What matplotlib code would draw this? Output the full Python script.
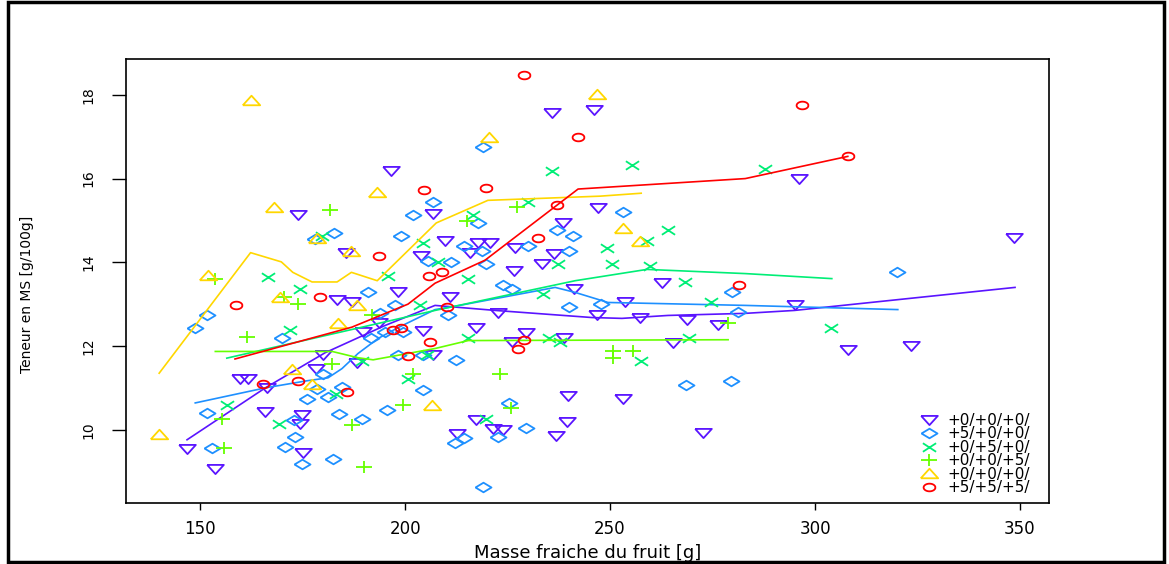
import matplotlib
matplotlib.use("Agg")
import matplotlib.pyplot as plt
from matplotlib.path import Path
from matplotlib.patches import Rectangle
import numpy as np

# group labels (legend order)
labels = ["+0/+0/+0/", "+5/+0/+0/", "+0/+5/+0/", "+0/+0/+5/", "+0/+0/+0/", "+5/+5/+5/"]
colors = ["#5a14ff", "#1e90ff", "#00ee76", "#66ff00", "#ffd700", "#ff0000"]

# fruit fresh mass [g] / dry matter [g/100g], one pair of lists per group
x_g1 = [146.8, 153.7, 159.8, 161.7, 165.9, 166.3, 173.9, 174.9, 174.4, 175.1, 178.3, 180.0, 183.4, 185.6,
        187.1, 188.3, 189.8, 193.7, 196.6, 198.3, 203.9, 204.4, 206.8, 206.8, 209.8, 211.0, 212.7, 215.9,
        217.3, 217.3, 217.8, 220.7, 221.5, 222.7, 223.9, 226.1, 226.6, 226.8, 229.5, 233.4, 235.9, 236.3,
        236.8, 238.5, 238.8, 239.5, 239.8, 241.2, 246.1, 246.8, 247.1, 253.2, 253.7, 257.3, 262.7, 265.4,
        268.8, 272.7, 276.3, 295.1, 296.1, 308.0, 323.4, 348.5]
y_g1 = [9.55, 9.05, 11.2, 11.22, 10.43, 11.0, 15.14, 10.36, 10.14, 9.45, 11.46, 11.79, 13.11, 14.21,
        13.06, 11.6, 12.34, 12.54, 16.17, 13.28, 14.16, 12.37, 15.16, 11.79, 14.5, 13.16, 9.9, 14.23,
        12.44, 10.24, 14.45, 14.45, 10.02, 12.78, 10.0, 12.1, 13.78, 14.35, 12.3, 13.95, 17.56, 14.19,
        9.86, 14.93, 12.2, 10.19, 10.81, 13.37, 17.63, 12.73, 15.29, 10.74, 13.04, 12.68, 13.5, 12.08,
        12.61, 9.93, 12.49, 12.99, 16.0, 11.91, 12.0, 14.57]

x_g2 = [148.8, 151.7, 151.7, 152.9, 170.0, 170.7, 172.9, 173.2, 174.9, 176.1, 178.0, 178.5, 180.0, 181.2,
        182.4, 182.7, 183.9, 184.6, 189.5, 191.0, 191.7, 193.9, 195.1, 195.6, 197.6, 198.3, 199.0, 199.5,
        202.0, 204.4, 204.4, 205.6, 206.8, 210.5, 211.2, 212.2, 212.4, 214.4, 214.4, 217.8, 218.8, 219.0,
        219.0, 219.8, 222.7, 223.9, 225.4, 226.1, 229.5, 230.0, 237.1, 240.0, 240.0, 241.0, 247.8, 253.2,
        268.5, 279.5, 279.8, 281.2, 320.0]
y_g2 = [12.44, 12.73, 10.41, 9.57, 12.18, 9.59, 10.24, 9.83, 9.19, 10.74, 14.55, 10.98, 11.34, 10.77,
        9.31, 14.71, 10.38, 11.03, 10.26, 13.28, 12.18, 12.78, 12.34, 10.48, 12.97, 11.79, 14.64, 12.34,
        15.14, 11.79, 10.96, 14.04, 15.45, 12.75, 14.0, 9.69, 11.67, 14.4, 9.81, 14.93, 14.26, 16.75,
        8.64, 13.97, 9.83, 13.45, 10.65, 13.35, 10.05, 14.4, 14.76, 14.28, 12.92, 14.64, 13.01, 15.19,
        11.08, 11.17, 13.28, 12.82, 13.76]

x_g3 = [156.6, 166.6, 169.3, 172.0, 174.4, 179.8, 183.2, 189.5, 195.9, 200.7, 203.7, 204.4, 205.4, 208.0,
        215.4, 215.4, 216.6, 219.8, 230.0, 233.7, 235.1, 235.9, 237.3, 237.8, 249.3, 250.5, 255.4, 257.6,
        259.0, 259.8, 264.1, 268.3, 269.3, 274.6, 287.8, 303.9]
y_g3 = [10.6, 13.64, 10.14, 12.39, 13.37, 14.62, 10.86, 11.65, 13.68, 11.22, 12.99, 14.45, 11.79, 14.0,
        13.61, 12.18, 15.12, 10.26, 15.43, 13.25, 12.18, 16.17, 13.95, 12.1, 14.35, 13.95, 16.32, 11.63,
        14.52, 13.9, 14.76, 13.52, 12.2, 13.04, 16.24, 12.42]

x_g4 = [153.7, 155.4, 155.9, 161.5, 170.5, 173.9, 181.7, 182.2, 187.1, 190.0, 192.0, 199.5, 202.0, 215.1,
        223.2, 225.9, 227.3, 250.7, 250.7, 255.6, 278.8]
y_g4 = [13.59, 10.26, 9.57, 12.22, 13.16, 13.01, 15.26, 11.56, 10.12, 9.11, 12.73, 10.6, 11.32, 14.98,
        11.32, 10.53, 15.33, 11.89, 11.72, 11.87, 12.56]

x_g5 = [140.0, 152.0, 162.4, 168.0, 169.5, 172.4, 177.3, 178.5, 183.7, 186.8, 188.3, 193.2, 206.6, 220.5,
        246.8, 253.2, 257.3]
y_g5 = [9.9, 13.7, 17.87, 15.31, 13.16, 11.46, 11.1, 14.59, 12.56, 14.28, 12.97, 15.69, 10.6, 16.99,
        18.01, 14.81, 14.5]

x_g6 = [158.8, 165.4, 173.9, 179.3, 185.9, 193.7, 197.1, 199.0, 200.7, 204.6, 205.9, 206.1, 209.0, 210.2,
        219.8, 227.6, 229.0, 229.0, 232.4, 237.1, 242.2, 281.5, 296.8, 308.0]
y_g6 = [12.99, 11.1, 11.17, 13.16, 10.91, 14.14, 12.39, 12.42, 11.77, 15.72, 13.68, 12.1, 13.76, 12.94,
        15.77, 11.94, 12.15, 18.47, 14.59, 15.38, 16.99, 13.45, 17.75, 16.53]

# smoothed trend of each group
lx_g1 = [146.8, 165.9, 180.5, 195.1, 207.3, 222.0, 245.6, 252.9, 264.1, 283.0, 295.0, 348.8]
ly_g1 = [9.76, 11.0, 11.84, 12.49, 12.97, 12.85, 12.68, 12.66, 12.73, 12.78, 12.85, 13.4]
lx_g2 = [148.8, 165.9, 176.1, 181.2, 184.6, 188.5, 193.4, 198.3, 207.3, 212.2, 236.6, 241.5, 249.5, 283.0, 320.2]
ly_g2 = [10.64, 11.0, 11.17, 11.24, 11.46, 11.82, 12.18, 12.44, 12.87, 12.95, 13.4, 13.28, 13.04, 12.97, 12.87]
lx_g3 = [156.5, 207.3, 241.5, 259.0, 283.0, 304.1]
ly_g3 = [11.71, 12.85, 13.56, 13.83, 13.73, 13.61]
lx_g4 = [153.7, 182.2, 188.5, 192.2, 207.3, 215.4, 278.8]
ly_g4 = [11.87, 11.87, 11.72, 11.67, 11.94, 12.13, 12.15]
lx_g5 = [140.0, 162.3, 169.8, 172.6, 177.3, 183.4, 186.9, 193.2, 207.6, 220.2, 247.6, 257.6]
ly_g5 = [11.35, 14.23, 14.01, 13.76, 13.53, 13.53, 13.76, 13.56, 14.94, 15.48, 15.58, 15.65]
lx_g6 = [158.5, 187.0, 200.7, 207.3, 219.5, 242.2, 283.0, 308.0]
ly_g6 = [11.69, 12.45, 13.0, 13.5, 14.05, 15.75, 16.0, 16.53]

# flattened symbols, like the original R plot
t = np.linspace(0, 2 * np.pi, 40)
m_tri_down = Path([(-1, 0.55), (1, 0.55), (0, -0.55), (-1, 0.55)])
m_diamond = Path([(-1, 0), (0, 0.6), (1, 0), (0, -0.6), (-1, 0)])
m_cross = Path([(-1, -0.65), (1, 0.65), (-1, 0.65), (1, -0.65)],
               [Path.MOVETO, Path.LINETO, Path.MOVETO, Path.LINETO])
m_plus = Path([(-1, 0), (1, 0), (0, -0.8), (0, 0.8)],
              [Path.MOVETO, Path.LINETO, Path.MOVETO, Path.LINETO])
m_tri_up = Path([(-1, -0.55), (1, -0.55), (0, 0.55), (-1, -0.55)])
m_circle = Path(np.column_stack([np.cos(t), 0.65 * np.sin(t)]))

markers = [m_tri_down, m_diamond, m_cross, m_plus, m_tri_up, m_circle]
msizes = [12, 11.5, 9.5, 11, 12.5, 8.5]

xs = [x_g1, x_g2, x_g3, x_g4, x_g5, x_g6]
ys = [y_g1, y_g2, y_g3, y_g4, y_g5, y_g6]
lxs = [lx_g1, lx_g2, lx_g3, lx_g4, lx_g5, lx_g6]
lys = [ly_g1, ly_g2, ly_g3, ly_g4, ly_g5, ly_g6]

fig = plt.figure(figsize=(11.69, 5.64), dpi=100)
ax = fig.add_axes([0.1074, 0.1082, 0.79, 0.7867])

handles = []
for i in range(6):
    h, = ax.plot(xs[i], ys[i], linestyle='', marker=markers[i], markersize=msizes[i],
                 markerfacecolor='none', markeredgecolor=colors[i], markeredgewidth=1.3,
                 label=labels[i])
    handles.append(h)
    ax.plot(lxs[i], lys[i], color=colors[i], linewidth=1.2)

ax.set_xlim(131.8, 357.1)
ax.set_ylim(8.25, 18.85)
ax.set_xticks([150, 200, 250, 300, 350])
ax.set_yticks([10, 12, 14, 16, 18])
ax.tick_params(axis='x', length=5, width=1, pad=7, labelsize=12)
ax.tick_params(axis='y', length=10, width=1, pad=12, labelsize=10, labelrotation=90)
for lab in ax.get_yticklabels():
    lab.set_verticalalignment('center')
for sp in ax.spines.values():
    sp.set_linewidth(1.2)

ax.set_xlabel('Masse fraiche du fruit [g]', size=13, va='center')
ax.xaxis.set_label_coords(0.5, -0.113)
ax.set_ylabel('Teneur en MS [g/100g]', size=10, va='center')
ax.yaxis.set_label_coords(-0.107, 0.47)

leg = ax.legend(handles=handles, loc='upper left', bbox_to_anchor=(0.8597, 0.203),
                frameon=False, fontsize=11, numpoints=1, handlelength=1.25,
                handletextpad=0.55, borderpad=0, borderaxespad=0, labelspacing=-0.1)

# black frame around the whole picture
fig.patches.append(Rectangle((8 / 1169, 2 / 564), 1156 / 1169, 560 / 564, transform=fig.transFigure,
                             fill=False, edgecolor='black', linewidth=2.5))

plt.savefig("out.png", dpi=100)
